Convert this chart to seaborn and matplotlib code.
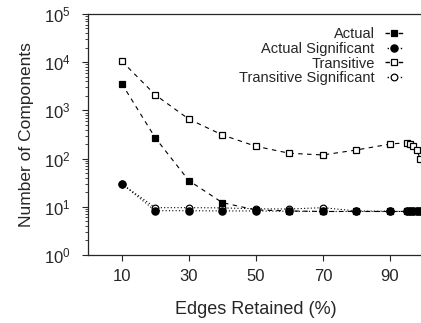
import seaborn as sns
import matplotlib.pyplot as plt
import pandas as pd

edges = [10, 20, 30, 40, 50, 60, 70, 80, 90, 95, 96, 97, 98, 99]
actual = [3600, 270, 35, 12.2, 8.6, 8.2, 8.0, 8.0, 8.0, 8.0, 8.0, 8.0, 8.0, 8.0]
actual_sig = [30, 8.3, 8.3, 8.2, 8.2, 8.1, 8.0, 8.0, 8.0, 8.0, 8.0, 8.0, 8.0, 8.0]
transitive = [10500, 2100, 660, 310, 180, 129, 119, 151, 200, 214, 200, 180, 150, 98]
transitive_sig = [30, 9.6, 9.6, 9.5, 9.1, 9.0, 9.6, 8.2, 8.1, 8.0, 8.0, 8.0, 8.0, 8.0]


def main():
    sns.set_style("ticks")
    plt.rcParams['font.family'] = ['Liberation Sans', 'DejaVu Sans']
    plt.rcParams['mathtext.fontset'] = 'custom'
    plt.rcParams['mathtext.rm'] = 'Liberation Sans'

    df = pd.DataFrame({"edges": edges, "Actual": actual,
                       "Actual Significant": actual_sig,
                       "Transitive": transitive,
                       "Transitive Significant": transitive_sig})

    fig = plt.figure(figsize=(4.21, 3.23), dpi=100)
    ax = fig.add_axes([0.2095, 0.2105, 1.006 - 0.2095, 0.9567 - 0.2105])

    styles = {
        "Actual": dict(marker="s", linestyle=(0, (4, 4)), mfc="black", ms=5, zorder=4),
        "Actual Significant": dict(marker="o", linestyle=(0, (1, 2)), mfc="black", ms=5.2, zorder=5),
        "Transitive": dict(marker="s", linestyle=(0, (4, 4)), mfc="white", ms=5, zorder=3),
        "Transitive Significant": dict(marker="o", linestyle=(0, (1, 2)), mfc="white", ms=4.8, zorder=2),
    }
    for name, st in styles.items():
        sns.lineplot(data=df, x="edges", y=name, ax=ax, color="black", label=name,
                     linewidth=0.8, mec="black", mew=0.9, **st)

    ax.set_yscale("log")
    ax.set_ylim(1, 1e5)
    ax.set_xlim(0, 100)
    ax.set_xticks([10, 30, 50, 70, 90])
    ax.set_xlabel("Edges Retained (%)", fontsize=13, labelpad=12)
    ax.set_ylabel("Number of Components", fontsize=12.5, labelpad=7)
    ax.tick_params(axis="both", which="major", labelsize=12, direction="out", length=4.5, width=0.8)
    ax.tick_params(axis="x", which="major", pad=5.5)
    ax.tick_params(axis="y", which="major", pad=8)
    ax.tick_params(axis="y", which="minor", direction="out", length=2.2, width=0.6)
    ax.tick_params(axis="x", which="minor", bottom=False)
    for s in ax.spines.values():
        s.set_linewidth(0.9)

    leg = ax.legend(loc="upper right", bbox_to_anchor=(0.955, 0.97), frameon=False, markerfirst=False,
                    fontsize=10.5, handlelength=1.21, handletextpad=0.7, labelspacing=0.05,
                    borderaxespad=0)
    # short dash / dot on both sides of the legend marker
    dash_ends = (0, (3.2, 6.3, 3.2, 20))
    dot_ends = (0, (0.001, 1.5, 1, 8.5, 1, 20))
    for line, ls in zip(leg.get_lines(), [dash_ends, dot_ends, dash_ends, dot_ends]):
        line.set_linestyle(ls)
        line.set_linewidth(1)

    plt.savefig("out.png", dpi=100)


if __name__ == '__main__':
    main()
